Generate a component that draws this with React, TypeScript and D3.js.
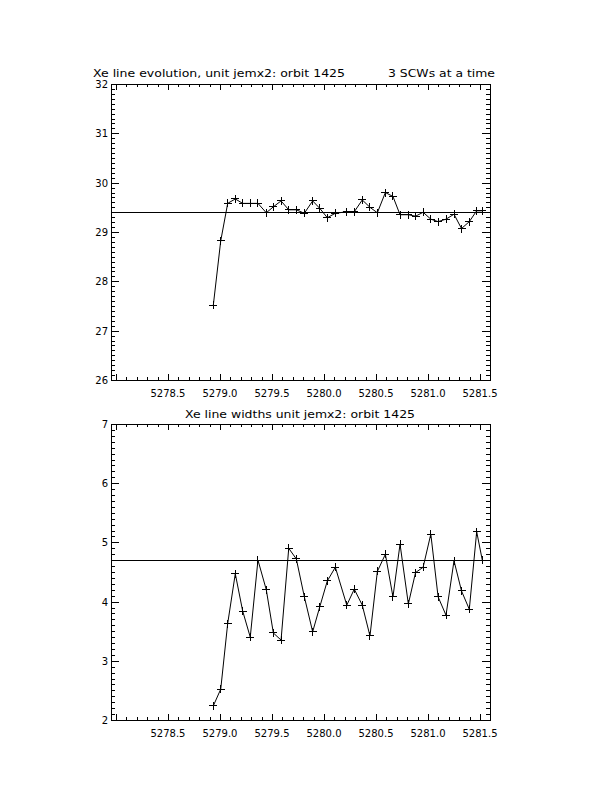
import React from 'react';
import * as d3 from 'd3';

// Time (days) of each 3-SCW group
const times = [
  5278.936, 5279.007, 5279.074, 5279.147, 5279.218, 5279.291, 5279.365, 5279.445,
  5279.513, 5279.587, 5279.661, 5279.734, 5279.811, 5279.891, 5279.959, 5280.032,
  5280.109, 5280.219, 5280.291, 5280.368, 5280.442, 5280.513, 5280.590, 5280.663,
  5280.731, 5280.811, 5280.880, 5280.953, 5281.027, 5281.097, 5281.173, 5281.250,
  5281.322, 5281.397, 5281.468, 5281.522,
];

// Xe line centroid (channel)
const lineCenter = [
  27.52, 28.82, 29.58, 29.67, 29.58, 29.58, 29.58, 29.39, 29.51, 29.63, 29.45, 29.45,
  29.38, 29.63, 29.48, 29.29, 29.38, 29.41, 29.41, 29.65, 29.50, 29.39, 29.80, 29.72,
  29.35, 29.35, 29.32, 29.40, 29.26, 29.21, 29.26, 29.36, 29.07, 29.21, 29.43, 29.43,
];

// Xe line width
const lineWidth = [
  2.24, 2.52, 3.63, 4.47, 3.84, 3.40, 4.70, 4.20, 3.47, 3.35, 4.90, 4.72,
  4.08, 3.49, 3.91, 4.35, 4.58, 3.94, 4.21, 3.94, 3.42, 4.51, 4.80, 4.08,
  4.97, 3.96, 4.49, 4.58, 5.14, 4.08, 3.77, 4.69, 4.18, 3.87, 5.18, 4.70,
];

const centerMean = 29.41;
const widthMean = 4.71;

const xDomain = [5277.952, 5281.596];
const xTickLabels = ['5278.5', '5279.0', '5279.5', '5280.0', '5280.5', '5281.0', '5281.5'];
const centerTickLabels = ['26', '27', '28', '29', '30', '31', '32'];
const widthTickLabels = ['2', '3', '4', '5', '6', '7'];

const FONT = '"DejaVu Sans", "Liberation Sans", sans-serif';

type PanelProps = {
  top: number;
  bottom: number;
  values: number[];
  mean: number;
  yLabels: string[];
};

const LEFT = 111;
const RIGHT = 490;

function Panel({ top, bottom, values, mean, yLabels }: PanelProps) {
  const yMin = +yLabels[0];
  const yMax = +yLabels[yLabels.length - 1];
  const x = d3.scaleLinear().domain(xDomain).range([LEFT, RIGHT]);
  const y = d3.scaleLinear().domain([yMin, yMax]).range([bottom, top]);

  const xMinor = d3.range(Math.ceil(xDomain[0] * 10 + 1e-6), Math.floor(xDomain[1] * 10 + 1e-6) + 1).map((v) => v / 10);
  const yMinor = d3.range(yMin * 10, yMax * 10 + 1).map((v) => v / 10);

  const line = d3
    .line<number>()
    .x((_, i) => x(times[i]))
    .y((d) => y(d));

  const xMaj = 6, xMin = 3, yMaj = 8, yMinL = 4;
  const isMajorX = (v: number) => Math.abs(v * 2 - Math.round(v * 2)) < 1e-6;
  const isMajorY = (v: number) => Math.abs(v - Math.round(v)) < 1e-6;

  return (
    <g>
      <rect x={LEFT} y={top} width={RIGHT - LEFT} height={bottom - top} fill="none" stroke="#000" strokeWidth={1} shapeRendering="crispEdges" />
      {xMinor.map((v, i) => {
        const L = isMajorX(v) ? xMaj : xMin;
        const px = Math.round(x(v)) + 0.5;
        return (
          <g key={'xt' + i} shapeRendering="crispEdges">
            <line x1={px} x2={px} y1={bottom} y2={bottom - L} stroke="#000" />
            <line x1={px} x2={px} y1={top} y2={top + L} stroke="#000" />
          </g>
        );
      })}
      {yMinor.map((v, i) => {
        const L = isMajorY(v) ? yMaj : yMinL;
        const py = Math.round(y(v)) + 0.5;
        return (
          <g key={'yt' + i} shapeRendering="crispEdges">
            <line x1={LEFT} x2={LEFT + L} y1={py} y2={py} stroke="#000" />
            <line x1={RIGHT} x2={RIGHT - L} y1={py} y2={py} stroke="#000" />
          </g>
        );
      })}
      {xTickLabels.map((t) => (
        <text key={'xl' + t} x={x(+t)} y={bottom + 17} fontSize={10} fontFamily={FONT} textAnchor="middle">
          {t}
        </text>
      ))}
      {yLabels.map((t) => (
        <text key={'yl' + t} x={LEFT - 3} y={y(+t) + 4} fontSize={10} fontFamily={FONT} textAnchor="end">
          {t}
        </text>
      ))}
      <line x1={LEFT} x2={RIGHT} y1={Math.round(y(mean)) + 0.5} y2={Math.round(y(mean)) + 0.5} stroke="#000" shapeRendering="crispEdges" />
      <path d={line(values) || ''} fill="none" stroke="#000" strokeWidth={1} />
      {values.map((v, i) => {
        const cx = x(times[i]);
        const cy = y(v);
        return (
          <g key={'m' + i} shapeRendering="crispEdges">
            <line x1={cx - 4} x2={cx + 4} y1={cy} y2={cy} stroke="#000" />
            <line x1={cx} x2={cx} y1={cy - 4} y2={cy + 4} stroke="#000" />
          </g>
        );
      })}
    </g>
  );
}

export default function App() {
  return (
    <svg
      width={612}
      height={792}
      viewBox="0 0 612 792"
      style={{ position: 'absolute', left: 0, top: 0, background: '#fff' }}
    >
      <rect x={0} y={0} width={612} height={792} fill="#fff" />
      <text x={93} y={77} fontSize={11} fontFamily={FONT} textLength={252} lengthAdjust="spacingAndGlyphs">
        Xe line evolution, unit jemx2: orbit 1425
      </text>
      <text x={388} y={77} fontSize={11} fontFamily={FONT} textLength={107} lengthAdjust="spacingAndGlyphs">
        3 SCWs at a time
      </text>
      <Panel top={84} bottom={380} values={lineCenter} mean={centerMean} yLabels={centerTickLabels} />
      <text x={185} y={418} fontSize={11} fontFamily={FONT} textLength={230} lengthAdjust="spacingAndGlyphs">
        Xe line widths unit jemx2: orbit 1425
      </text>
      <Panel top={424} bottom={720} values={lineWidth} mean={widthMean} yLabels={widthTickLabels} />
    </svg>
  );
}
